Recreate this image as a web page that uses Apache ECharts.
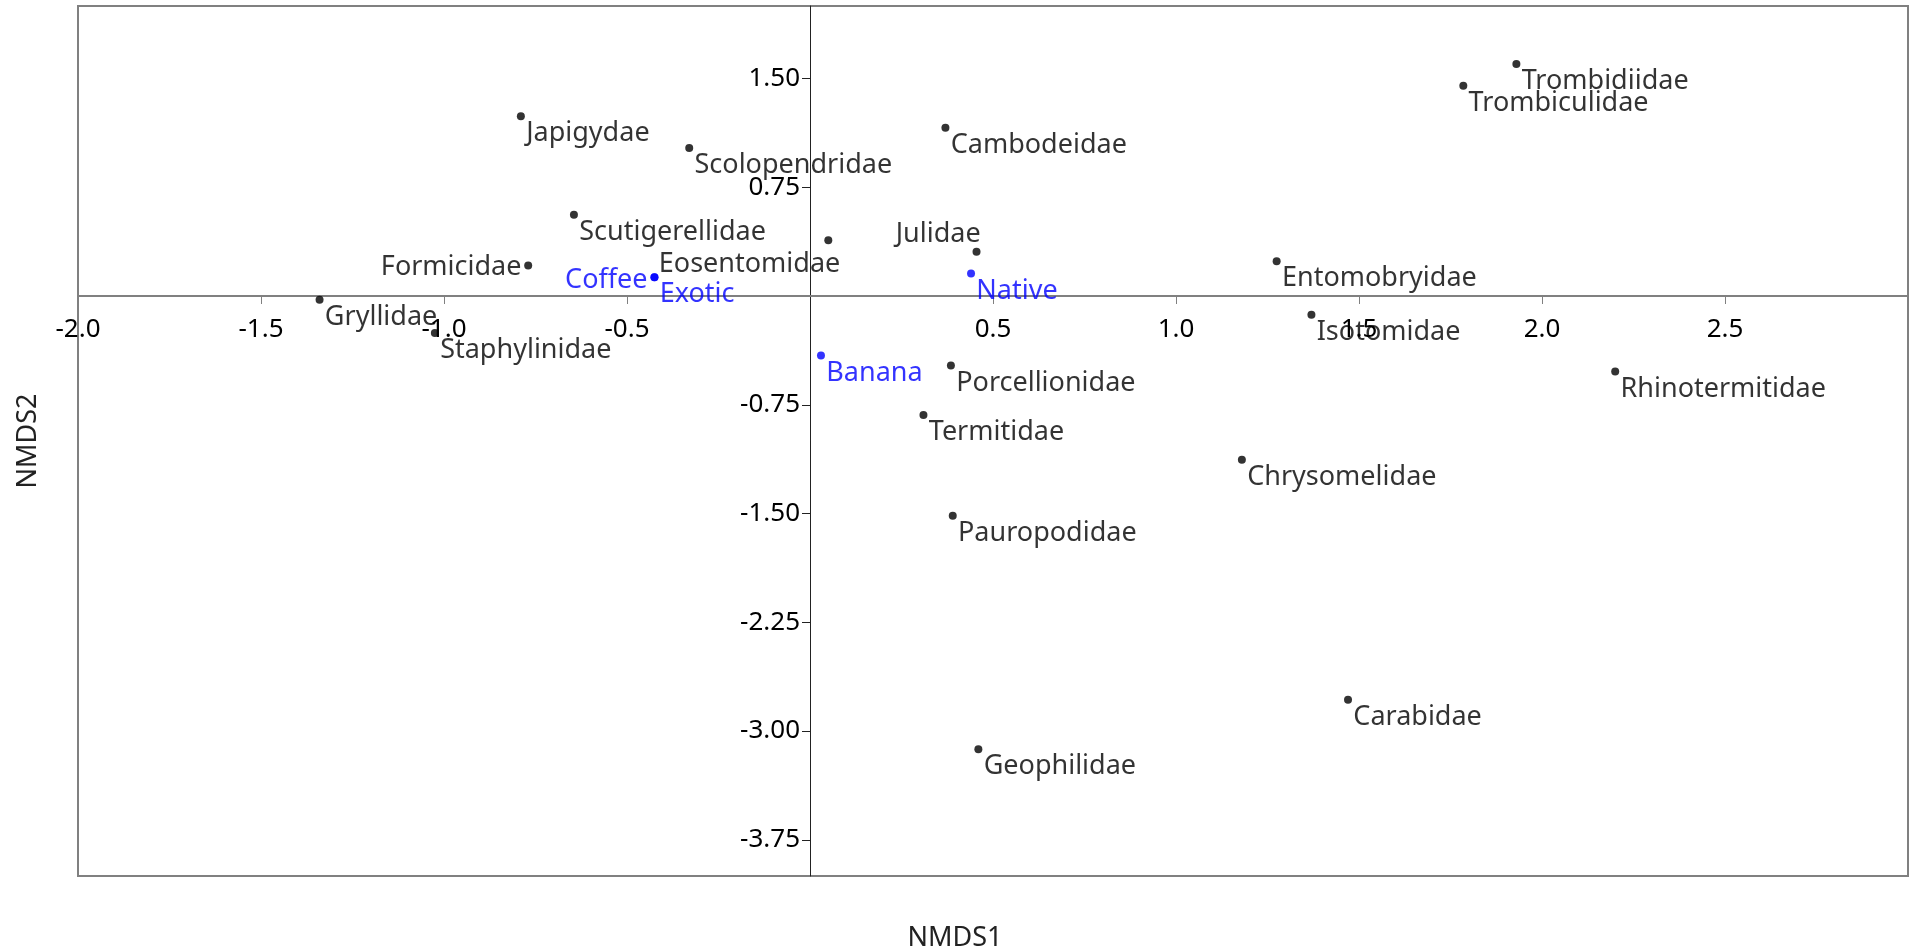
<!DOCTYPE html>
<html>
<head>
<meta charset="utf-8">
<script src="https://cdn.jsdelivr.net/npm/echarts@6/dist/echarts.min.js"></script>
<style>
html,body{margin:0;padding:0;background:#fff;}
#chart{width:1910px;height:950px;}
</style>
</head>
<body>
<div id="chart"></div>
<script>
// ---- data ----
var speciesNames = ['Japigydae','Scolopendridae','Cambodeidae','Scutigerellidae','Formicidae','Eosentomidae','Julidae','Gryllidae','Staphylinidae','Entomobryidae','Isotomidae','Trombidiidae','Trombiculidae','Rhinotermitidae','Porcellionidae','Termitidae','Chrysomelidae','Pauropodidae','Carabidae','Geophilidae'];
var speciesX = [-0.79,-0.33,0.37,-0.645,-0.77,0.05,0.455,-1.34,-1.025,1.275,1.37,1.93,1.785,2.2,0.385,0.31,1.18,0.39,1.47,0.46];
var speciesY = [1.24,1.02,1.16,0.56,0.21,0.385,0.305,-0.025,-0.255,0.24,-0.13,1.60,1.45,-0.52,-0.48,-0.82,-1.13,-1.515,-2.785,-3.125];

var siteNames = ['Coffee','Exotic','Native','Banana'];
var siteX = [-0.425,-0.425,0.44,0.03];
var siteY = [0.13,0.13,0.155,-0.41];

var xTickValues = [-2.0,-1.5,-1.0,-0.5,0.5,1.0,1.5,2.0,2.5];
var yTickValues = [-3.75,-3.0,-2.25,-1.5,-0.75,0.75,1.5];

// ---- label placement (style) ----
var SYM = 8;
var stdLabel = {position:[9.3,8], align:'left', verticalAlign:'top'};
var specialLabels = {
  'Formicidae': {position:[-2.7,6], align:'right', verticalAlign:'middle'},
  'Coffee': {position:[-2.9,7], align:'right', verticalAlign:'middle'},
  'Julidae': {position:[8.1,0], align:'right', verticalAlign:'bottom'},
  'Eosentomidae': {position:[16,14.5], align:'right', verticalAlign:'top'}
};
function buildData(names, xs, ys){
  return names.map(function(n,i){
    var l = specialLabels[n] || stdLabel;
    return {name:n, value:[xs[i], ys[i]], label:{position:l.position, align:l.align, verticalAlign:l.verticalAlign}};
  });
}

var FONT = 'Noto Sans';
var G = {left:78, right:2, top:6, bottom:74};
var W = 1910, H = 950;
var chart = echarts.init(document.getElementById('chart'));
function makeOption(xMargin, yMargin){
  return {
  animation:false,
  backgroundColor:'#fff',
  grid:{left:G.left, right:G.right, top:G.top, bottom:G.bottom, show:true, borderColor:'#808080', borderWidth:2, outerBoundsMode:'none'},
  xAxis:{
    type:'value', min:-2, max:3,
    axisLine:{onZero:true, lineStyle:{color:'#808080', width:2}},
    axisTick:{show:true, length:8, lineStyle:{color:'#808080'}, customValues:xTickValues},
    axisLabel:{margin:xMargin, fontSize:26, fontFamily:FONT, color:'#000', customValues:xTickValues,
      formatter:function(v){return v.toFixed(1);}},
    splitLine:{show:false}
  },
  yAxis:{
    type:'value', min:-4, max:2,
    axisLine:{onZero:true, lineStyle:{color:'#222', width:1}},
    axisTick:{show:true, length:8, lineStyle:{color:'#222'}, customValues:yTickValues},
    axisLabel:{margin:yMargin, fontSize:26, fontFamily:FONT, color:'#000', customValues:yTickValues,
      formatter:function(v){return v.toFixed(2);}},
    splitLine:{show:false}
  },
  graphic:[
    {type:'text', left:'center', top:925, style:{text:'NMDS1', font:'27px "Noto Sans"', fill:'#222'}},
    {type:'text', x:28, y:441, rotation:Math.PI/2, style:{text:'NMDS2', font:'27px "Noto Sans"', fill:'#222', textAlign:'center', textVerticalAlign:'middle'}}
  ],
  series:[
    {
      type:'scatter', name:'species', symbol:'circle', symbolSize:SYM,
      itemStyle:{color:'#000'},
      label:{show:true, formatter:'{b}', fontSize:27, fontFamily:FONT, color:'#000'},
      data:buildData(speciesNames, speciesX, speciesY), z:3
    },
    {
      type:'scatter', name:'sites', symbol:'circle', symbolSize:SYM,
      itemStyle:{color:'#0000ff'},
      label:{show:true, formatter:'{b}', fontSize:27, fontFamily:FONT, color:'#0000ff'},
      data:buildData(siteNames, siteX, siteY), z:4
    }
  ]};
}
chart.setOption(makeOption(21, 10));
// labels are anchored at the grid edges in this version; shift them to the zero lines
var p = chart.convertToPixel({gridIndex:0}, [0, 0]);
var gridBottomY = H - G.bottom, gridLeftX = G.left;
var xM = 21 - (gridBottomY - p[1]);
var yM = 10 - (p[0] - gridLeftX);
chart.setOption(makeOption(xM, yM), true);
</script>
</body>
</html>
